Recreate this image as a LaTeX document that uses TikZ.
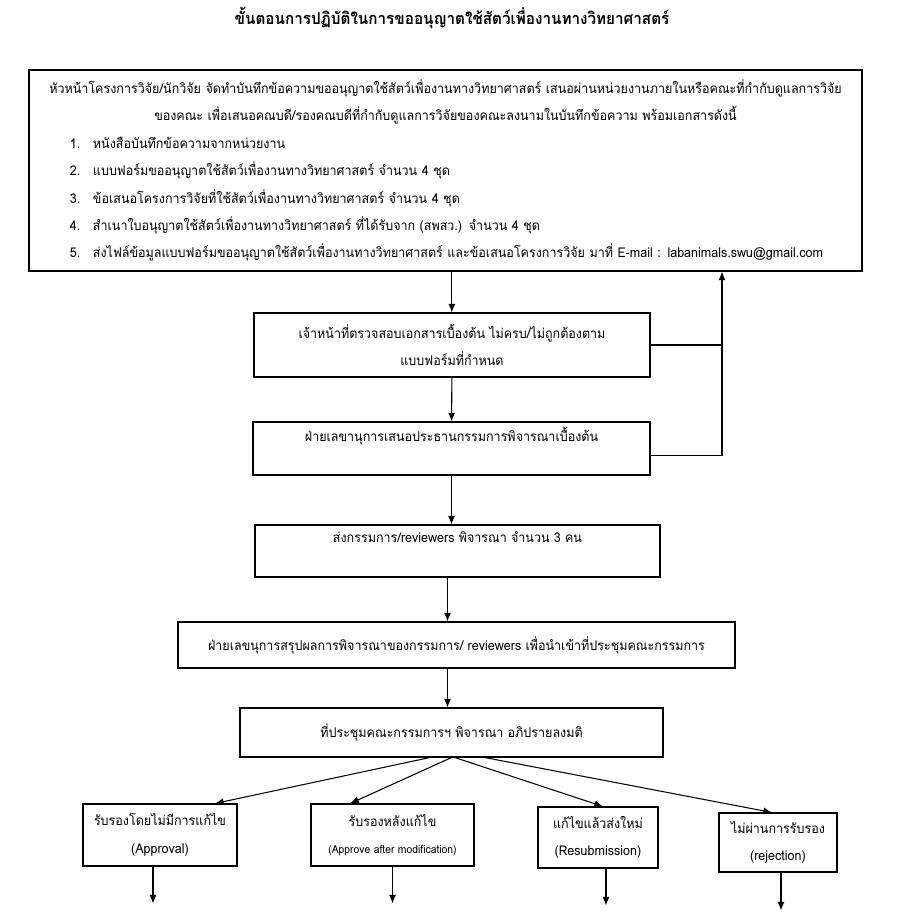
\documentclass[tikz,border=0pt]{standalone}
\usepackage{fontspec}
\setmainfont[Script=Thai,FakeStretch=0.93]{Loma}
\usetikzlibrary{arrows.meta}
\setlength{\parindent}{0pt}
\hyphenpenalty=10000
\newcommand\reqitem[2]{\hspace*{1.23cm}\makebox[0.69cm][l]{#1}#2\par}
\tikzset{
  box/.style={draw,line width=0.9pt,align=center,inner sep=0pt,font=\fontsize{11.5}{23.4}\selectfont},
}
\begin{document}
\begin{tikzpicture}[x=0.03cm,y=-0.03cm,line width=0.9pt,>={Latex[length=0.26cm,width=0.21cm]}]
	\useasboundingbox (0,0) rectangle (907,913);
	\node[font=\bfseries\fontsize{14}{16}\selectfont] (title) at (452,18) {ขั้นตอนการปฏิบัติในการขออนุญาตใช้สัตว์เพื่องานทางวิทยาศาสตร์};
	% main steps
	\node[box,text width=24.99cm,minimum height=6.03cm,align=left] (req) at (445.5,170.5) {%
		{\centering หัวหน้าโครงการวิจัย/นักวิจัย จัดทำบันทึกข้อความขออนุญาตใช้สัตว์เพื่องานทางวิทยาศาสตร์ เสนอผ่านหน่วยงานภายในหรือคณะที่กำกับดูแลการวิจัย\\
		ของคณะ เพื่อเสนอคณบดี/รองคณบดีที่กำกับดูแลการวิจัยของคณะลงนามในบันทึกข้อความ พร้อมเอกสารดังนี้\par}
		\reqitem{1.}{หนังสือบันทึกข้อความจากหน่วยงาน}
		\reqitem{2.}{แบบฟอร์มขออนุญาตใช้สัตว์เพื่องานทางวิทยาศาสตร์ จำนวน 4 ชุด}
		\reqitem{3.}{ข้อเสนอโครงการวิจัยที่ใช้สัตว์เพื่องานทางวิทยาศาสตร์ จำนวน 4 ชุด}
		\reqitem{4.}{สำเนาใบอนุญาตใช้สัตว์เพื่องานทางวิทยาศาสตร์ ที่ได้รับจาก (สพสว.) จำนวน 4 ชุด}
		\reqitem{5.}{ส่งไฟล์ข้อมูลแบบฟอร์มขออนุญาตใช้สัตว์เพื่องานทางวิทยาศาสตร์ และข้อเสนอโครงการวิจัย มาที่ E-mail : labanimals.swu@gmail.com}};
	\node[box,minimum width=11.88cm,minimum height=1.92cm] (chk) at (452,345) {เจ้าหน้าที่ตรวจสอบเอกสารเบื้องต้น ไม่ครบ/ไม่ถูกต้องตาม\\แบบฟอร์มที่กำหนด};
	\node[box,minimum width=11.91cm,minimum height=1.59cm] (sec) at (451.5,448.5) {ฝ่ายเลขานุการเสนอประธานกรรมการพิจารณาเบื้องต้น\\~};
	\node[box,minimum width=12.15cm,minimum height=1.56cm] (rev) at (457.5,551) {ส่งกรรมการ/reviewers พิจารณา จำนวน 3 คน\\~};
	\node[box,minimum width=16.71cm,minimum height=1.38cm] (sum) at (456.5,645) {ฝ่ายเลขนุการสรุปผลการพิจารณาของกรรมการ/ reviewers เพื่อนำเข้าที่ประชุมคณะกรรมการ};
	\node[box,minimum width=12.69cm,minimum height=1.47cm] (meet) at (451.5,732.5) {ที่ประชุมคณะกรรมการฯ พิจารณา อภิปรายลงมติ};
	% results
	\node[box,minimum width=4.62cm,minimum height=1.86cm] (ok) at (160,835) {รับรองโดยไม่มีการแก้ไข\\(Approval)};
	\node[box,minimum width=4.89cm,minimum height=1.86cm] (mod) at (392.5,835) {รับรองหลังแก้ไข\\{\fontsize{9.5}{10}\selectfont(Approve after modification)}};
	\node[box,minimum width=3.6cm,minimum height=1.83cm] (resub) at (598,837.5) {แก้ไขแล้วส่งใหม่\\(Resubmission)};
	\node[box,minimum width=3.54cm,minimum height=1.77cm] (rej) at (778,842.5) {ไม่ผ่านการรับรอง\\(rejection)};
	% arrows
	\draw[->] ([xshift=0.19cm]req.south) -- ([xshift=0.19cm]req.south |- chk.north);
	\draw[->] (chk) -- (sec);
	\draw[->] (sec) -- (sec |- rev.north);
	\draw[->] ([xshift=-0.3cm]rev.south) -- ([xshift=-0.3cm]rev.south |- sum.north);
	\draw[->] ([xshift=-0.27cm]sum.south) -- ([xshift=-0.27cm]sum.south |- meet.north);
	\coordinate (back) at (722,0);
	\draw (chk.east) -- (chk.east -| back);
	\draw[->] ([yshift=-0.22cm]sec.east) -- ([yshift=-0.22cm]sec.east -| back) -- (back |- req.south);
	\draw[->] ([xshift=-0.65cm]meet.south) -- ([xshift=1.65cm]ok.north);
	\draw[->] (meet.south) -- ([xshift=-1.27cm]mod.north);
	\draw[->] ([xshift=0.1cm]meet.south) -- ([xshift=0.15cm]resub.north);
	\draw[->] ([xshift=1cm]meet.south) -- ([xshift=-0.18cm]rej.north);
	\draw[->] ([xshift=-0.21cm]ok.south) -- ++(0,37);
	\draw[->] (mod.south) -- ++(0,37);
	\draw[->] ([xshift=0.24cm]resub.south) -- ++(0,37);
	\draw[->] ([xshift=0.09cm]rej.south) -- ++(0,38);
\end{tikzpicture}
\end{document}
